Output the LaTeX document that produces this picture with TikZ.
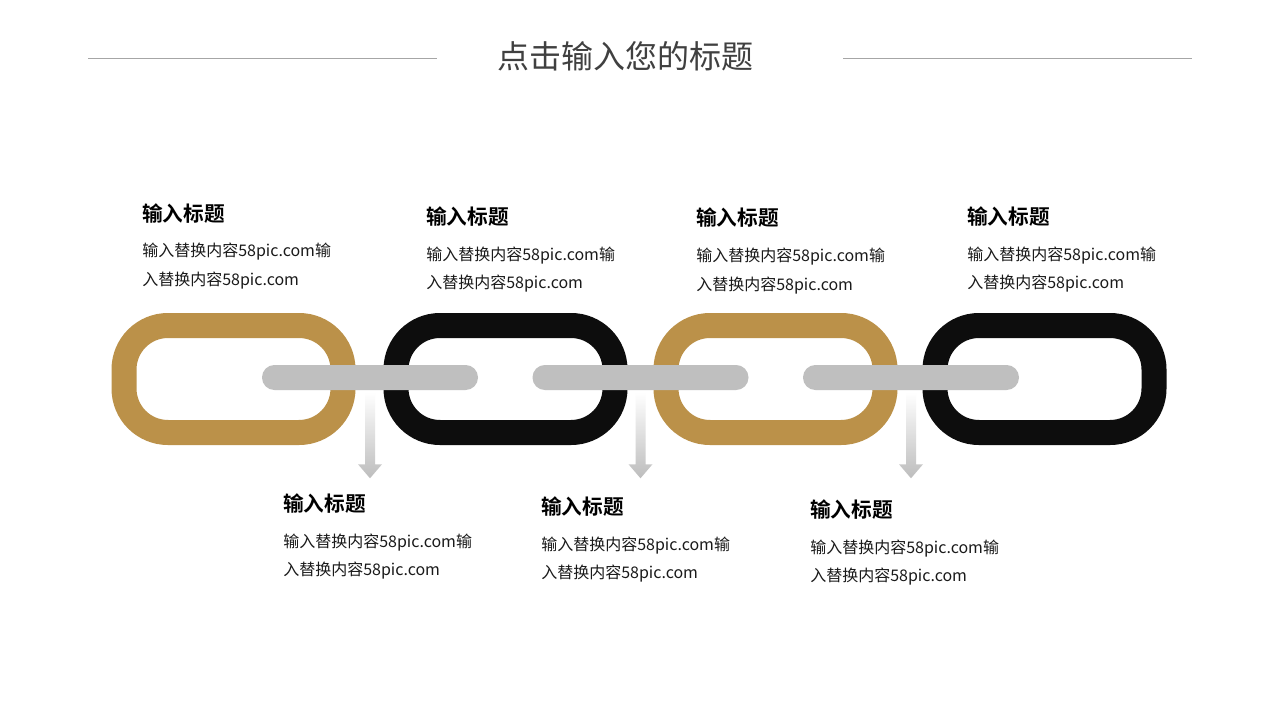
\documentclass[tikz,border=0pt]{standalone}
\usepackage{fontspec}
\setmainfont{Noto Sans CJK SC}[BoldFont={Noto Sans CJK SC Bold}]
\definecolor{gold}{HTML}{BB9149}
\definecolor{ink}{HTML}{0D0D0D}
\definecolor{bargray}{HTML}{BFBFBF}
\definecolor{arrowgray}{HTML}{BDBDBD}
\definecolor{rulegray}{HTML}{A6A6A6}
\definecolor{titlegray}{HTML}{404040}
\definecolor{textgray}{HTML}{1A1A1A}
\begin{document}
\begin{tikzpicture}[x=0.75pt,y=-0.75pt,
  link/.style={draw=#1, line width=18.75pt, rounded corners=33pt,
    minimum width=164.25pt, minimum height=80.25pt, inner sep=0pt},
  bar/.style={fill=bargray, rounded corners=9.3pt, minimum width=162pt,
    minimum height=18.75pt, inner sep=0pt},
  headtext/.style={anchor=base west, inner sep=0pt,
    font=\fontsize{15.5}{18}\selectfont\bfseries, text=black},
  bodytext/.style={anchor=base west, inner sep=0pt,
    font=\fontsize{12}{14}\selectfont, text=textgray},
  downarrow/.style={top color=white, bottom color=arrowgray, draw=none}]
\useasboundingbox[fill=white] (0,0) rectangle (1280,720);

% title and rules
\node[font=\fontsize{24}{28}\selectfont, text=titlegray, inner sep=0pt] (title) at (625,56) {点击输入您的标题};
\coordinate (rl1) at (88,59);
\coordinate (rl2) at (437,59);
\coordinate (rr1) at (843,59);
\coordinate (rr2) at (1192,59);
\draw[rulegray, line width=0.75pt] (rl1) -- (rl2);
\draw[rulegray, line width=0.75pt] (rr1) -- (rr2);

% chain links
\node[link=gold] (l1) at (233.5,379) {};
\node[link=ink]  (l2) at (505.5,379) {};
\node[link=gold] (l3) at (775.5,379) {};
\node[link=ink]  (l4) at (1044.5,379) {};

% bars
\node[bar] (b1) at (370,377.5) {};
\node[bar] (b2) at (640.5,377.5) {};
\node[bar] (b3) at (911,377.5) {};

% arrows
\foreach \b in {b1,b2,b3}{
  \begin{scope}[shift={(\b.south)}]
    \shade[downarrow] (-5,2) -- (5,2) -- (5,74) -- (12,74) -- (0,88) -- (-12,74) -- (-5,74) -- cycle;
    \coordinate (\b tip) at (0,88);
  \end{scope}
}

% top text blocks
\node[headtext] (h1) at (142,222) {输入标题};
\node[bodytext] (a1) at (142,257) {输入替换内容58pic.com输};
\node[bodytext] (c1) at (142,285) {入替换内容58pic.com};

\node[headtext] (h2) at (426,224) {输入标题};
\node[bodytext] (a2) at (426,260) {输入替换内容58pic.com输};
\node[bodytext] (c2) at (426,288) {入替换内容58pic.com};

\node[headtext] (h3) at (696,226) {输入标题};
\node[bodytext] (a3) at (696,262) {输入替换内容58pic.com输};
\node[bodytext] (c3) at (696,290) {入替换内容58pic.com};

\node[headtext] (h4) at (967,224) {输入标题};
\node[bodytext] (a4) at (967,260) {输入替换内容58pic.com输};
\node[bodytext] (c4) at (967,288) {入替换内容58pic.com};

% bottom text blocks
\node[headtext] (h5) at (283,511) {输入标题};
\node[bodytext] (a5) at (283,547) {输入替换内容58pic.com输};
\node[bodytext] (c5) at (283,575) {入替换内容58pic.com};

\node[headtext] (h6) at (541,514) {输入标题};
\node[bodytext] (a6) at (541,550) {输入替换内容58pic.com输};
\node[bodytext] (c6) at (541,578) {入替换内容58pic.com};

\node[headtext] (h7) at (810,517) {输入标题};
\node[bodytext] (a7) at (810,553) {输入替换内容58pic.com输};
\node[bodytext] (c7) at (810,581) {入替换内容58pic.com};
\end{tikzpicture}
\end{document}
